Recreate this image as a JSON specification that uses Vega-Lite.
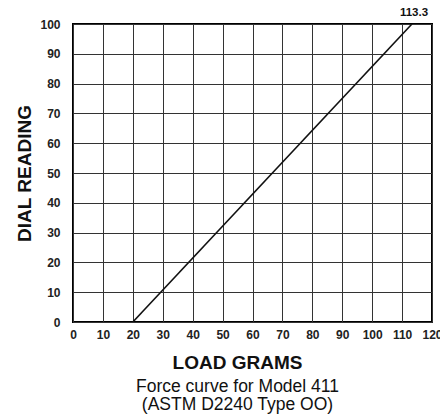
{
  "$schema": "https://vega.github.io/schema/vega-lite/v6.json",
  "width": 359,
  "height": 298,
  "autosize": {"type": "none"},
  "padding": {"left": 73, "top": 24, "right": 8, "bottom": 94},
  "background": "white",
  "config": {
    "font": "Liberation Sans",
    "view": {"stroke": "black", "strokeWidth": 2},
    "axis": {
      "labelFont": "Liberation Sans",
      "labelFontWeight": "bold",
      "labelFontSize": 12,
      "labelColor": "#222",
      "labelOverlap": false,
      "labelFlush": false,
      "titleFont": "Liberation Sans",
      "titleFontWeight": "bold",
      "titleFontSize": 19,
      "titleColor": "#111",
      "ticks": false,
      "domain": false,
      "gridColor": "#333",
      "gridWidth": 1,
      "gridOpacity": 1
    }
  },
  "title": {
    "text": ["Force curve for Model 411", "(ASTM D2240 Type OO)"],
    "orient": "bottom",
    "anchor": "middle",
    "font": "Liberation Sans",
    "fontSize": 17.5,
    "fontWeight": "normal",
    "color": "#111",
    "offset": 6,
    "dx": -15,
    "lineHeight": 18
  },
  "datasets": {
    "curve": [
      {"load": 20, "dial": 0},
      {"load": 113.3, "dial": 100}
    ],
    "label": [
      {"load": 113.3, "dial": 100, "text": "113.3"}
    ]
  },
  "encoding": {
    "x": {
      "field": "load", "type": "quantitative",
      "scale": {"domain": [0, 120], "nice": false},
      "axis": {"values": [0,10,20,30,40,50,60,70,80,90,100,110,120], "tickCount": 30, "title": "LOAD GRAMS", "labelPadding": 7, "titlePadding": 13, "titleX": 164}
    },
    "y": {
      "field": "dial", "type": "quantitative",
      "scale": {"domain": [0, 100], "nice": false},
      "axis": {"values": [0,10,20,30,40,50,60,70,80,90,100], "tickCount": 30, "title": "DIAL READING", "labelPadding": 13, "titlePadding": 5}
    }
  },
  "layer": [
    {
      "data": {"name": "curve"},
      "mark": {"type": "line", "color": "#111", "strokeWidth": 1.6, "clip": true}
    },
    {
      "data": {"name": "label"},
      "mark": {"type": "text", "font": "Liberation Sans", "fontWeight": "bold", "fontSize": 11.5, "dy": -11, "dx": 2, "color": "#111"},
      "encoding": {
        "text": {"field": "text"}
      }
    }
  ]
}
